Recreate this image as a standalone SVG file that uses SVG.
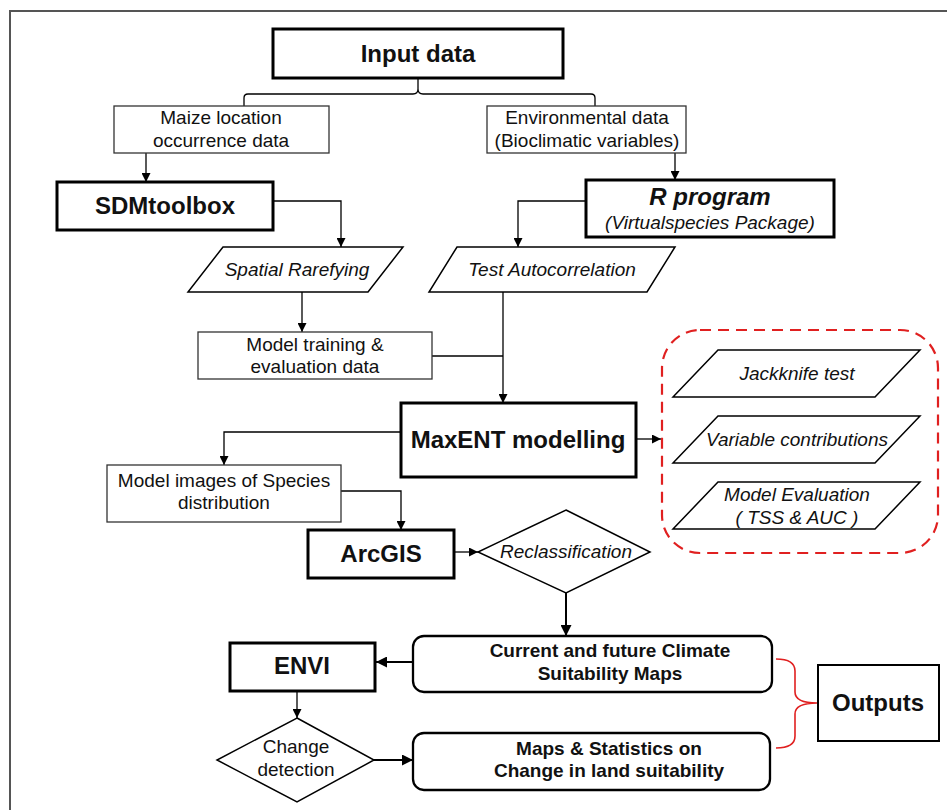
<svg xmlns="http://www.w3.org/2000/svg" width="947" height="810" viewBox="0 0 947 810">
<defs>
<marker id="ah" viewBox="0 0 10 10" refX="10" refY="5" markerWidth="11" markerHeight="9" markerUnits="userSpaceOnUse" orient="auto">
<path d="M0,0 L10,5 L0,10 Z" fill="#000"/>
</marker>
<marker id="ahb" viewBox="0 0 10 10" refX="10" refY="5" markerWidth="14" markerHeight="11" markerUnits="userSpaceOnUse" orient="auto">
<path d="M0,0 L10,5 L0,10 Z" fill="#000"/>
</marker>
</defs>
<style>
text{font-family:"Liberation Sans",Arial,sans-serif;fill:#111;text-anchor:middle}
.r{font-size:19px}
.i{font-size:19px;font-style:italic}
.b{font-size:24px;font-weight:bold}
.bs{font-size:19px;font-weight:bold}
.thin{fill:#fff;stroke:#333;stroke-width:1.3}
.thick{fill:#fff;stroke:#000;stroke-width:3}
.rnd{fill:#fff;stroke:#000;stroke-width:2.3}
.pg{fill:#fff;stroke:#000;stroke-width:1.5}
.c{fill:none;stroke:#000;stroke-width:1.3}
.cb{fill:none;stroke:#000;stroke-width:2}
</style>
<rect width="947" height="810" fill="#fff"/>
<path d="M10,810 V11 H947" fill="none" stroke="#555" stroke-width="2"/>

<g id="connectors">
<path class="c" d="M244,106 V98 Q244,94 248,94 H413 Q418,94 418,89 V78 M418,89 Q418,94 423,94 H591 Q595,94 595,98 V106"/>
<path class="c" d="M146,153 V182" marker-end="url(#ah)"/>
<path class="c" d="M675,153 V180" marker-end="url(#ah)"/>
<path class="c" d="M273,201 H341 V247" marker-end="url(#ah)"/>
<path class="c" d="M586,201 H518 V247" marker-end="url(#ah)"/>
<path class="c" d="M302,292 V332" marker-end="url(#ah)"/>
<path class="c" d="M503,292 V403" marker-end="url(#ah)"/>
<path class="c" d="M432,356 H503"/>
<path class="c" d="M636,439 H661" marker-end="url(#ah)"/>
<path class="c" d="M401,432 H224 V465" marker-end="url(#ah)"/>
<path class="c" d="M341,491 H401 V530" marker-end="url(#ah)"/>
<path class="c" d="M454,552 H478" marker-end="url(#ah)"/>
<path class="cb" d="M566,593 V636" marker-end="url(#ahb)"/>
<path class="cb" d="M413,662 H376" marker-end="url(#ahb)"/>
<path class="c" d="M297,691 V718" marker-end="url(#ah)"/>
<path class="cb" d="M374,760 H413" marker-end="url(#ahb)"/>
<path d="M776,659 Q795,659 795,671 V692 Q795,703 817,703 Q795,703 795,714 V736 Q795,748 776,748" fill="none" stroke="#e02020" stroke-width="1.6"/>
</g>

<g id="input-data">
<rect class="thick" x="273" y="29" width="290" height="49" stroke-width="2.7"/>
<text class="b" x="418" y="62">Input data</text>
</g>
<g id="maize">
<rect class="thin" x="114" y="106" width="215" height="47"/>
<text class="r" x="221" y="124">Maize location</text>
<text class="r" x="221" y="147">occurrence data</text>
</g>
<g id="environmental">
<rect class="thin" x="487" y="106" width="199" height="47"/>
<text class="r" x="587" y="124">Environmental data</text>
<text class="r" x="587" y="147">(Bioclimatic variables)</text>
</g>
<g id="sdmtoolbox">
<rect class="thick" x="57" y="182" width="216" height="48"/>
<text class="b" x="165" y="214">SDMtoolbox</text>
</g>
<g id="rprogram">
<rect class="thick" x="586" y="180" width="248" height="57"/>
<text class="b" x="710" y="205" font-style="italic">R program</text>
<text class="i" x="710" y="229" font-size="17.5">(Virtualspecies Package)</text>
</g>
<g id="spatial-rarefying">
<polygon class="pg" points="223,247 403,247 368,292 188,292"/>
<text class="i" x="297" y="276">Spatial Rarefying</text>
</g>
<g id="test-autocorrelation">
<polygon class="pg" points="457,247 675,247 647,292 429,292"/>
<text class="i" x="552" y="276">Test Autocorrelation</text>
</g>
<g id="model-training">
<rect class="thin" x="198" y="332" width="234" height="47"/>
<text class="r" x="315" y="351">Model training &amp;</text>
<text class="r" x="315" y="373">evaluation  data</text>
</g>
<g id="maxent">
<rect class="thick" x="401" y="403" width="235" height="74"/>
<text class="b" x="518" y="448">MaxENT modelling</text>
</g>
<g id="evaluation-group">
<rect x="662" y="330" width="276" height="223" rx="38" fill="none" stroke="#e02020" stroke-width="2.2" stroke-dasharray="11,7"/>
</g>
<g id="jackknife">
<polygon class="pg" points="718,350 920,350 875,397 673,397"/>
<text class="i" x="797" y="380">Jackknife test</text>
</g>
<g id="variable-contributions">
<polygon class="pg" points="718,416 920,416 875,463 673,463"/>
<text class="i" x="797" y="446">Variable contributions</text>
</g>
<g id="model-evaluation">
<polygon class="pg" points="718,482 920,482 875,529 673,529"/>
<text class="i" x="797" y="501">Model Evaluation</text>
<text class="i" x="797" y="524">( TSS &amp; AUC )</text>
</g>
<g id="model-images">
<rect class="thin" x="107" y="465" width="234" height="57"/>
<text class="r" x="224" y="487">Model images of Species</text>
<text class="r" x="224" y="509">distribution</text>
</g>
<g id="arcgis">
<rect class="thick" x="308" y="530" width="146" height="48"/>
<text class="b" x="381" y="562">ArcGIS</text>
</g>
<g id="reclassification">
<polygon class="pg" points="566,510 650,552 566,593 478,552"/>
<text class="i" x="566" y="558">Reclassification</text>
</g>
<g id="current-maps">
<rect class="rnd" x="413" y="636" width="359" height="56" rx="11"/>
<text class="bs" x="610" y="657">Current and future Climate</text>
<text class="bs" x="610" y="680">Suitability Maps</text>
</g>
<g id="envi">
<rect class="thick" x="230" y="643" width="145" height="48"/>
<text class="b" x="302" y="674">ENVI</text>
</g>
<g id="change-detection">
<polygon class="pg" points="297,718 374,760 297,802 217,760"/>
<text class="r" x="296" y="753">Change</text>
<text class="r" x="296" y="776">detection</text>
</g>
<g id="maps-statistics">
<rect class="rnd" x="413" y="733" width="357" height="57" rx="11"/>
<text class="bs" x="609" y="755">Maps &amp; Statistics on</text>
<text class="bs" x="609" y="777">Change in land suitability</text>
</g>
<g id="outputs">
<rect x="818" y="665" width="121" height="76" fill="#fff" stroke="#000" stroke-width="2"/>
<text class="b" x="878" y="711">Outputs</text>
</g>
</svg>
